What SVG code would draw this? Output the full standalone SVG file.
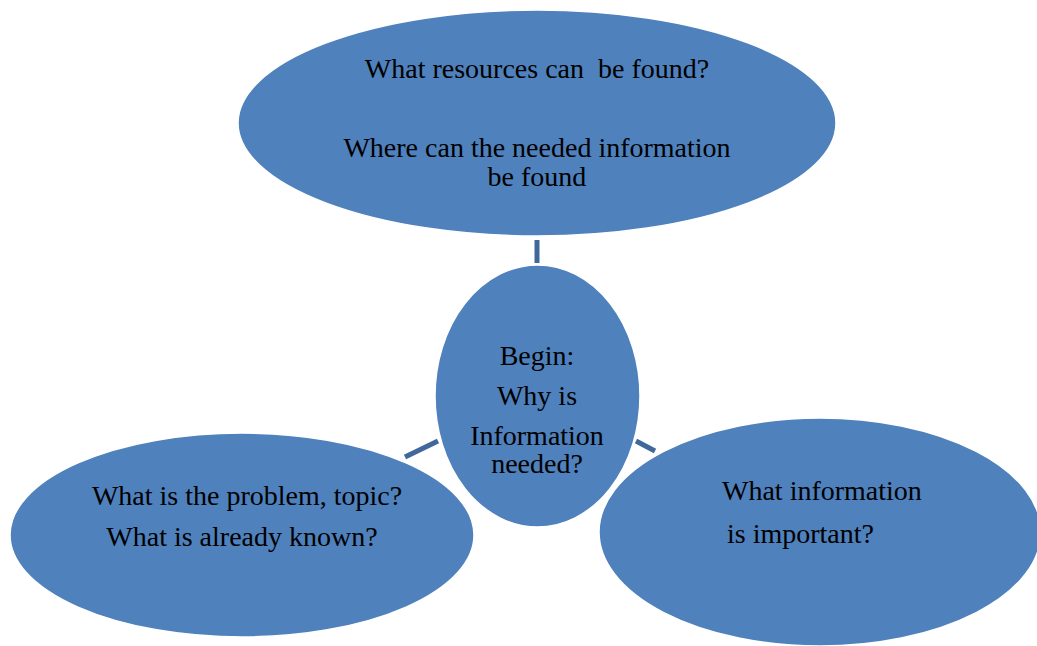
<svg xmlns="http://www.w3.org/2000/svg" width="1037" height="646" viewBox="0 0 1037 646">
<style>
.node{fill:#4F81BD;stroke:#ffffff;stroke-width:1.5}
.conn{stroke:#41689A;stroke-width:5;fill:none}
text{font-family:"Liberation Serif","Times New Roman","DejaVu Serif",serif;font-size:28px;fill:#000}
</style>
<rect width="1037" height="646" fill="#ffffff"/>
<g id="connectors">
<line class="conn" x1="537" y1="240" x2="537" y2="263"/>
<line class="conn" x1="405" y1="457" x2="438" y2="441"/>
<line class="conn" x1="636" y1="441" x2="655" y2="451"/>
</g>
<g id="node-top">
<ellipse class="node" cx="537" cy="123" rx="299" ry="113"/>
<text x="537" y="78" text-anchor="middle" xml:space="preserve">What resources can  be found?</text>
<text x="537" y="157" text-anchor="middle">Where can the needed information</text>
<text x="537" y="186" text-anchor="middle">be found</text>
</g>
<g id="node-center">
<ellipse class="node" cx="537.5" cy="396" rx="102.5" ry="131"/>
<text x="537" y="365" text-anchor="middle">Begin:</text>
<text x="537" y="405" text-anchor="middle">Why is</text>
<text x="537" y="445" text-anchor="middle">Information</text>
<text x="537" y="473" text-anchor="middle">needed?</text>
</g>
<g id="node-left">
<ellipse class="node" cx="242" cy="535" rx="232" ry="102"/>
<text x="247" y="505" text-anchor="middle">What is the problem, topic?</text>
<text x="242" y="546" text-anchor="middle">What is already known?</text>
</g>
<g id="node-right">
<ellipse class="node" cx="820" cy="532" rx="221" ry="114"/>
<text x="722" y="500">What information</text>
<text x="727" y="543">is important?</text>
</g>
</svg>
